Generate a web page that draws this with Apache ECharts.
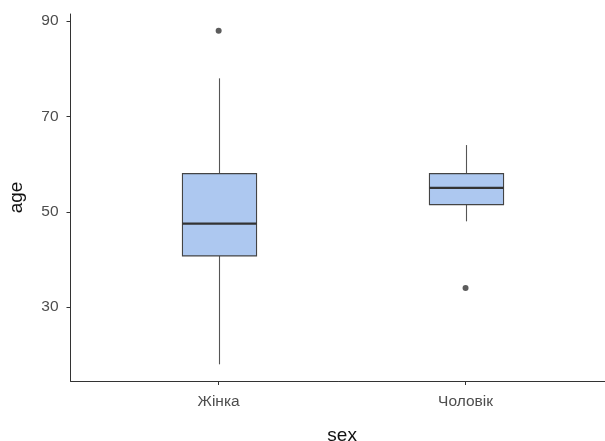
<!DOCTYPE html>
<html>
<head>
<meta charset="utf-8">
<script src="https://cdn.jsdelivr.net/npm/echarts@6/dist/echarts.min.js"></script>
<style>html,body{margin:0;padding:0;background:#fff}#c{width:605px;height:441px}</style>
</head>
<body>
<div id="c"></div>
<script>
// Data
const categories = ['Жінка', 'Чоловік'];
const whiskerLow = [18, 48];
const q1 = [40.75, 51.5];
const median = [47.5, 55];
const q3 = [58, 58];
const whiskerHigh = [78, 64];
const outlierCategory = [1, 2];
const outlierValue = [88, 34];
const yTicks = [30, 50, 70, 90];

const boxData = categories.map((c, i) => [i + 1, whiskerLow[i], q1[i], median[i], q3[i], whiskerHigh[i]]);
const outlierData = outlierValue.map((v, i) => [outlierCategory[i], v]);

const chart = echarts.init(document.getElementById('c'), null, {renderer: 'canvas'});
const FONT = '"Liberation Sans", Arial, sans-serif';

chart.setOption({
  animation: false,
  backgroundColor: '#ffffff',
  grid: {left: 70.5, top: 14, bottom: 60, right: -8.7, containLabel: false, outerBoundsMode: 'none'},
  xAxis: {
    type: 'value', min: 0.4, max: 2.6,
    name: 'sex', nameLocation: 'middle', nameGap: 45,
    nameTextStyle: {fontFamily: FONT, fontSize: 19, color: '#111'},
    splitLine: {show: false},
    axisLine: {show: true, lineStyle: {color: '#333', width: 1}},
    axisTick: {show: true, length: 4, customValues: [1, 2], lineStyle: {color: '#333'}},
    axisLabel: {customValues: [1, 2], margin: 13, fontFamily: FONT, fontSize: 15.5, color: '#4d4d4d',
      formatter: v => categories[Math.round(v) - 1] || ''}
  },
  yAxis: {
    type: 'value', min: 14.5, max: 91.5,
    name: 'age', nameLocation: 'middle', nameGap: 44, nameRotate: 90,
    nameTextStyle: {fontFamily: FONT, fontSize: 19, color: '#111'},
    splitLine: {show: false},
    axisLine: {show: true, lineStyle: {color: '#333', width: 1}},
    axisTick: {show: true, length: 4, customValues: yTicks, lineStyle: {color: '#333'}},
    axisLabel: {customValues: yTicks, margin: 12, fontFamily: FONT, fontSize: 15.5, color: '#4d4d4d'}
  },
  series: [
    {
      type: 'custom',
      data: boxData,
      encode: {x: 0, y: [1, 2, 3, 4, 5]},
      renderItem: function (params, api) {
        const x = api.value(0);
        const pLo = api.coord([x, api.value(1)]);
        const pQ1 = api.coord([x, api.value(2)]);
        const pMed = api.coord([x, api.value(3)]);
        const pQ3 = api.coord([x, api.value(4)]);
        const pHi = api.coord([x, api.value(5)]);
        const hw = api.size([0.15, 0])[0];
        const cx = Math.round(pMed[0]) + 0.5;
        return {
          type: 'group',
          children: [
            {type: 'line', shape: {x1: cx, y1: pHi[1], x2: cx, y2: pQ3[1]}, style: {stroke: '#555', lineWidth: 1.1}},
            {type: 'line', shape: {x1: cx, y1: pQ1[1], x2: cx, y2: pLo[1]}, style: {stroke: '#555', lineWidth: 1.1}},
            {type: 'rect', shape: {x: cx - hw, y: pQ3[1], width: 2 * hw, height: pQ1[1] - pQ3[1]},
              style: {fill: '#adc8f0', stroke: '#444', lineWidth: 1.1}},
            {type: 'line', shape: {x1: cx - hw, y1: pMed[1], x2: cx + hw, y2: pMed[1]}, style: {stroke: '#333', lineWidth: 2.2}}
          ]
        };
      }
    },
    {
      type: 'scatter',
      data: outlierData,
      symbol: 'circle',
      symbolSize: 6,
      itemStyle: {color: '#333'}
    }
  ]
});
</script>
</body>
</html>
